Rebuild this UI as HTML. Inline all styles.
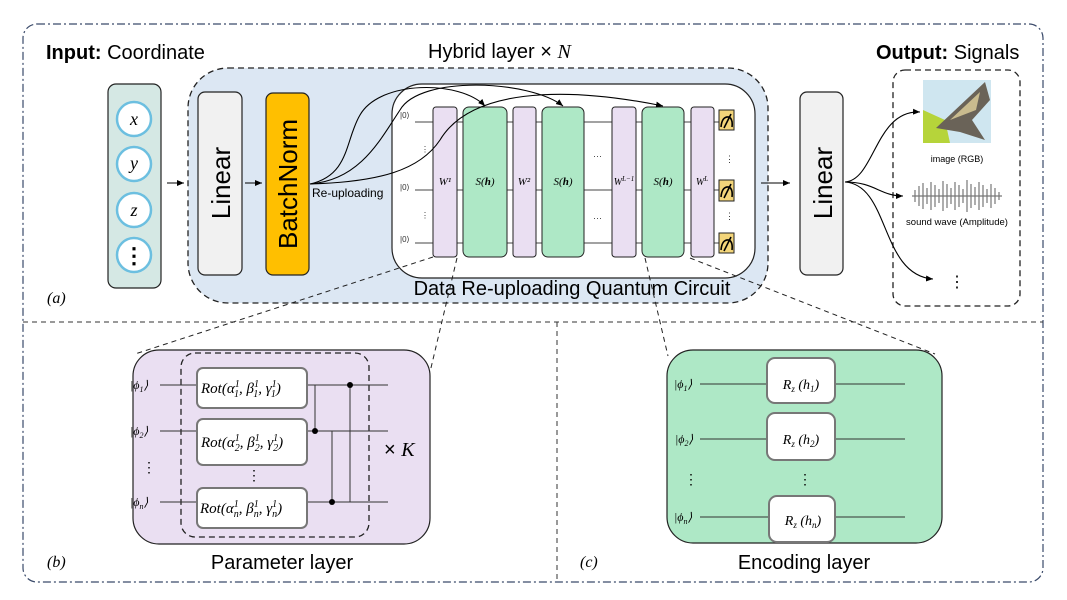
<!DOCTYPE html>
<html><head><meta charset="utf-8"><style>
html,body{margin:0;padding:0;background:#fff;}
svg{display:block;font-family:"Liberation Sans",sans-serif;}
.m{font-family:"Liberation Serif",serif;font-style:italic;}
</style></head><body>
<svg width="1067" height="600" viewBox="0 0 1067 600" xmlns="http://www.w3.org/2000/svg">
<defs>
<marker id="ar" markerWidth="8" markerHeight="8" refX="7" refY="4" orient="auto" markerUnits="userSpaceOnUse">
<path d="M0,1 L7,4 L0,7 Z" fill="#000"/></marker>
</defs>
<rect x="23" y="24" width="1020" height="558" rx="14" fill="none" stroke="#3a4a6a" stroke-width="1.2" stroke-dasharray="8,3,2,3"/>
<line x1="23" y1="322" x2="1043" y2="322" stroke="#333" stroke-width="1" stroke-dasharray="5,4"/>
<line x1="557" y1="322" x2="557" y2="582" stroke="#333" stroke-width="1" stroke-dasharray="5,4"/>

<text x="46" y="59" font-size="20"><tspan font-weight="bold">Input:</tspan> Coordinate</text>
<text x="428" y="58" font-size="20">Hybrid layer × <tspan class="m">N</tspan></text>
<text x="876" y="59" font-size="20"><tspan font-weight="bold">Output:</tspan> Signals</text>
<text x="47" y="303" font-size="16" class="m">(a)</text>
<text x="47" y="567" font-size="16" class="m">(b)</text>
<text x="580" y="567" font-size="16" class="m">(c)</text>

<rect x="108" y="84" width="53" height="204" rx="8" fill="#d5e8e4" stroke="#222" stroke-width="1.2"/>
<g fill="#fff" stroke="#6cbfe0" stroke-width="2.5">
<circle cx="134" cy="119" r="17"/><circle cx="134" cy="164" r="17"/><circle cx="134" cy="210" r="17"/><circle cx="134" cy="255" r="17"/></g>
<g font-size="18" class="m" text-anchor="middle"><text x="134" y="125">x</text><text x="134" y="169">y</text><text x="134" y="216">z</text></g>
<text x="134" y="263" font-size="22" font-weight="bold" text-anchor="middle">⋮</text>
<line x1="167" y1="183" x2="184" y2="183" stroke="#000" marker-end="url(#ar)"/>

<rect x="188" y="68" width="580" height="235" rx="40" fill="#dce7f3" stroke="#222" stroke-width="1.3" stroke-dasharray="6,4"/>
<rect x="198" y="92" width="44" height="183" rx="7" fill="#f1f1f1" stroke="#222" stroke-width="1.2"/>
<text transform="translate(230,183) rotate(-90)" font-size="26" text-anchor="middle">Linear</text>
<line x1="245" y1="183" x2="262" y2="183" stroke="#000" marker-end="url(#ar)"/>
<rect x="266" y="93" width="43" height="182" rx="7" fill="#ffbf00" stroke="#222" stroke-width="1.2"/>
<text transform="translate(297,184) rotate(-90)" font-size="26" text-anchor="middle">BatchNorm</text>
<text x="312" y="197" font-size="12">Re-uploading</text>

<rect x="392" y="84" width="363" height="194" rx="30" fill="#fff" stroke="#222" stroke-width="1.2"/>
<g stroke="#444" stroke-width="1">
<line x1="415" y1="122" x2="720" y2="122"/><line x1="415" y1="190" x2="720" y2="190"/><line x1="415" y1="243" x2="720" y2="243"/></g>
<g font-size="8" fill="#333"><text x="400" y="118">|0⟩</text><text x="400" y="190">|0⟩</text><text x="400" y="242">|0⟩</text>
<text x="421" y="152">⋮</text><text x="421" y="218">⋮</text></g>
<g stroke="#222" stroke-width="1">
<rect x="433" y="107" width="24" height="150" rx="3" fill="#eadff2"/>
<rect x="463" y="107" width="44" height="150" rx="6" fill="#aee8c6"/>
<rect x="513" y="107" width="23" height="150" rx="3" fill="#eadff2"/>
<rect x="542" y="107" width="42" height="150" rx="6" fill="#aee8c6"/>
<rect x="612" y="107" width="24" height="150" rx="3" fill="#eadff2"/>
<rect x="642" y="107" width="42" height="150" rx="6" fill="#aee8c6"/>
<rect x="691" y="107" width="23" height="150" rx="3" fill="#eadff2"/>
</g>
<g fill="#f3d57a" stroke="#222" stroke-width="1">
<rect x="719" y="110" width="15" height="20"/><rect x="719" y="180" width="15" height="21"/><rect x="719" y="233" width="15" height="20"/></g>
<g fill="none" stroke="#000" stroke-width="1.6">
<path d="M721,127 Q722,116 729,117 Q733,119 732,127 M724,128 L731,114"/>
<path d="M721,197 Q722,186 729,187 Q733,189 732,197 M724,198 L731,184"/>
<path d="M721,250 Q722,239 729,240 Q733,242 732,250 M724,251 L731,237"/></g>
<g font-size="9" fill="#333"><text x="725" y="162">⋮</text><text x="725" y="219">⋮</text><text x="593" y="159">···</text><text x="593" y="221">···</text></g>
<g font-size="11" class="m" text-anchor="middle">
<text x="445" y="185">W¹</text><text x="485" y="185">S(<tspan font-weight="bold">h</tspan>)</text>
<text x="524" y="185">W²</text><text x="563" y="185">S(<tspan font-weight="bold">h</tspan>)</text>
<text x="624" y="185" font-size="10">W<tspan font-size="7" dy="-4">L−1</tspan></text><text x="663" y="185">S(<tspan font-weight="bold">h</tspan>)</text>
<text x="702" y="185" font-size="10">W<tspan font-size="7" dy="-4">L</tspan></text></g>
<g fill="none" stroke="#000" stroke-width="1.1">
<path d="M310,184 C350,175 345,140 360,115 C380,80 460,80 485,106" marker-end="url(#ar)"/>
<path d="M310,184 C360,180 380,140 400,110 C420,75 530,80 563,106" marker-end="url(#ar)"/>
<path d="M310,184 C380,182 420,170 440,140 C470,90 560,85 663,106" marker-end="url(#ar)"/>
</g>
<text x="572" y="295" font-size="20" text-anchor="middle">Data Re-uploading Quantum Circuit</text>
<line x1="761" y1="183" x2="790" y2="183" stroke="#000" marker-end="url(#ar)"/>

<rect x="800" y="92" width="43" height="183" rx="7" fill="#f1f1f1" stroke="#222" stroke-width="1.2"/>
<text transform="translate(832,183) rotate(-90)" font-size="26" text-anchor="middle">Linear</text>
<rect x="893" y="70" width="127" height="236" rx="12" fill="none" stroke="#222" stroke-width="1.3" stroke-dasharray="6,4"/>
<rect x="923" y="80" width="68" height="63" fill="#cfe6f0"/>
<path d="M923,110 L945,120 L950,143 L923,143 Z" fill="#b6d43a"/>
<path d="M936,128 L985,82 L990,100 L972,120 L985,140 L960,132 Z" fill="#6a6358"/>
<path d="M950,120 L980,92 L976,110 Z" fill="#c9bb8e"/>
<text x="957" y="162" font-size="9" text-anchor="middle">image (RGB)</text>
<g stroke="#777" stroke-width="1.2">
<path d="M912,196 L1002,196"/>
<path d="M915,190v12M919,186v20M923,183v26M927,188v16M931,182v28M935,185v22M939,189v14M943,181v30M947,184v24M951,188v16M955,182v28M959,185v22M963,189v14M967,180v32M971,184v24M975,187v18M979,182v28M983,185v22M987,189v14M991,184v24M995,188v16M999,192v8"/>
</g>
<text x="957" y="225" font-size="9.5" text-anchor="middle">sound wave (Amplitude)</text>
<text x="957" y="287" font-size="16" text-anchor="middle">⋮</text>
<g fill="none" stroke="#000" stroke-width="1.1">
<path d="M845,182 C875,180 875,110 920,112" marker-end="url(#ar)"/>
<path d="M845,182 C875,182 880,196 903,196" marker-end="url(#ar)"/>
<path d="M845,182 C890,185 880,275 933,279" marker-end="url(#ar)"/>
</g>

<g stroke="#222" stroke-width="1" stroke-dasharray="5,4" fill="none">
<line x1="433" y1="257" x2="135" y2="354"/>
<line x1="457" y1="258" x2="430" y2="372"/>
<line x1="645" y1="258" x2="668" y2="356"/>
<line x1="690" y1="258" x2="935" y2="354"/>
</g>

<rect x="133" y="350" width="297" height="194" rx="26" fill="#eadff2" stroke="#222" stroke-width="1.2"/>
<rect x="181" y="353" width="188" height="184" rx="14" fill="none" stroke="#222" stroke-width="1.3" stroke-dasharray="6,4"/>
<g stroke="#333" stroke-width="1">
<line x1="160" y1="385" x2="388" y2="385"/><line x1="160" y1="431" x2="388" y2="431"/><line x1="160" y1="502" x2="388" y2="502"/>
<line x1="315" y1="385" x2="315" y2="431"/><line x1="332" y1="431" x2="332" y2="502"/><line x1="350" y1="385" x2="350" y2="502"/></g>
<g fill="#000"><circle cx="315" cy="431" r="3"/><circle cx="332" cy="502" r="3"/><circle cx="350" cy="385" r="3"/></g>
<g fill="#fff" stroke="#777" stroke-width="2">
<rect x="197" y="368" width="110" height="40" rx="6"/><rect x="197" y="419" width="110" height="46" rx="6"/><rect x="197" y="488" width="110" height="40" rx="6"/></g>
<g font-size="15" class="m">
<text x="201" y="393">Rot(α<tspan font-size="10" dy="-6">1</tspan><tspan font-size="10" dx="-5" dy="10">1</tspan><tspan dy="-4">, β</tspan><tspan font-size="10" dy="-6">1</tspan><tspan font-size="10" dx="-5" dy="10">1</tspan><tspan dy="-4">, γ</tspan><tspan font-size="10" dy="-6">1</tspan><tspan font-size="10" dx="-5" dy="10">1</tspan><tspan dy="-4">)</tspan></text>
<text x="201" y="447">Rot(α<tspan font-size="10" dy="-6">1</tspan><tspan font-size="10" dx="-5" dy="10">2</tspan><tspan dy="-4">, β</tspan><tspan font-size="10" dy="-6">1</tspan><tspan font-size="10" dx="-5" dy="10">2</tspan><tspan dy="-4">, γ</tspan><tspan font-size="10" dy="-6">1</tspan><tspan font-size="10" dx="-5" dy="10">2</tspan><tspan dy="-4">)</tspan></text>
<text x="200" y="513">Rot(α<tspan font-size="10" dy="-6">1</tspan><tspan font-size="10" dx="-5" dy="10">n</tspan><tspan dy="-4">, β</tspan><tspan font-size="10" dy="-6">1</tspan><tspan font-size="10" dx="-5" dy="10">n</tspan><tspan dy="-4">, γ</tspan><tspan font-size="10" dy="-6">1</tspan><tspan font-size="10" dx="-5" dy="10">n</tspan><tspan dy="-4">)</tspan></text>
</g>
<g font-size="12" class="m"><text x="130" y="389">|ϕ<tspan font-size="8" dy="3">1</tspan><tspan dy="-3">⟩</tspan></text><text x="130" y="435">|ϕ<tspan font-size="8" dy="3">2</tspan><tspan dy="-3">⟩</tspan></text><text x="130" y="506">|ϕ<tspan font-size="8" dy="3">n</tspan><tspan dy="-3">⟩</tspan></text></g>
<text x="142" y="472" font-size="14">⋮</text><text x="247" y="480" font-size="14">⋮</text>
<text x="384" y="456" font-size="20"><tspan>× </tspan><tspan class="m">K</tspan></text>
<text x="282" y="569" font-size="20" text-anchor="middle">Parameter layer</text>

<rect x="667" y="350" width="275" height="193" rx="26" fill="#aee8c6" stroke="#222" stroke-width="1.2"/>
<g stroke="#333" stroke-width="1">
<line x1="700" y1="384" x2="905" y2="384"/><line x1="700" y1="439" x2="905" y2="439"/><line x1="700" y1="517" x2="905" y2="517"/></g>
<g fill="#fff" stroke="#777" stroke-width="2">
<rect x="767" y="358" width="68" height="45" rx="8"/><rect x="767" y="413" width="68" height="47" rx="8"/><rect x="769" y="496" width="66" height="46" rx="8"/></g>
<g font-size="14" class="m" text-anchor="middle"><text x="801" y="389">R<tspan font-size="9" dy="3">z</tspan><tspan dy="-3"> (h</tspan><tspan font-size="9" dy="3">1</tspan><tspan dy="-3">)</tspan></text>
<text x="801" y="444">R<tspan font-size="9" dy="3">z</tspan><tspan dy="-3"> (h</tspan><tspan font-size="9" dy="3">2</tspan><tspan dy="-3">)</tspan></text>
<text x="803" y="525">R<tspan font-size="9" dy="3">z</tspan><tspan dy="-3"> (h</tspan><tspan font-size="9" dy="3">n</tspan><tspan dy="-3">)</tspan></text></g>
<g font-size="12" class="m"><text x="674" y="388">|ϕ<tspan font-size="8" dy="3">1</tspan><tspan dy="-3">⟩</tspan></text><text x="675" y="443">|ϕ<tspan font-size="8" dy="3">2</tspan><tspan dy="-3">⟩</tspan></text><text x="674" y="521">|ϕ<tspan font-size="8" dy="3">n</tspan><tspan dy="-3">⟩</tspan></text></g>
<text x="684" y="484" font-size="14">⋮</text><text x="798" y="484" font-size="14">⋮</text>
<text x="804" y="569" font-size="20" text-anchor="middle">Encoding layer</text>
</svg>
</body></html>
